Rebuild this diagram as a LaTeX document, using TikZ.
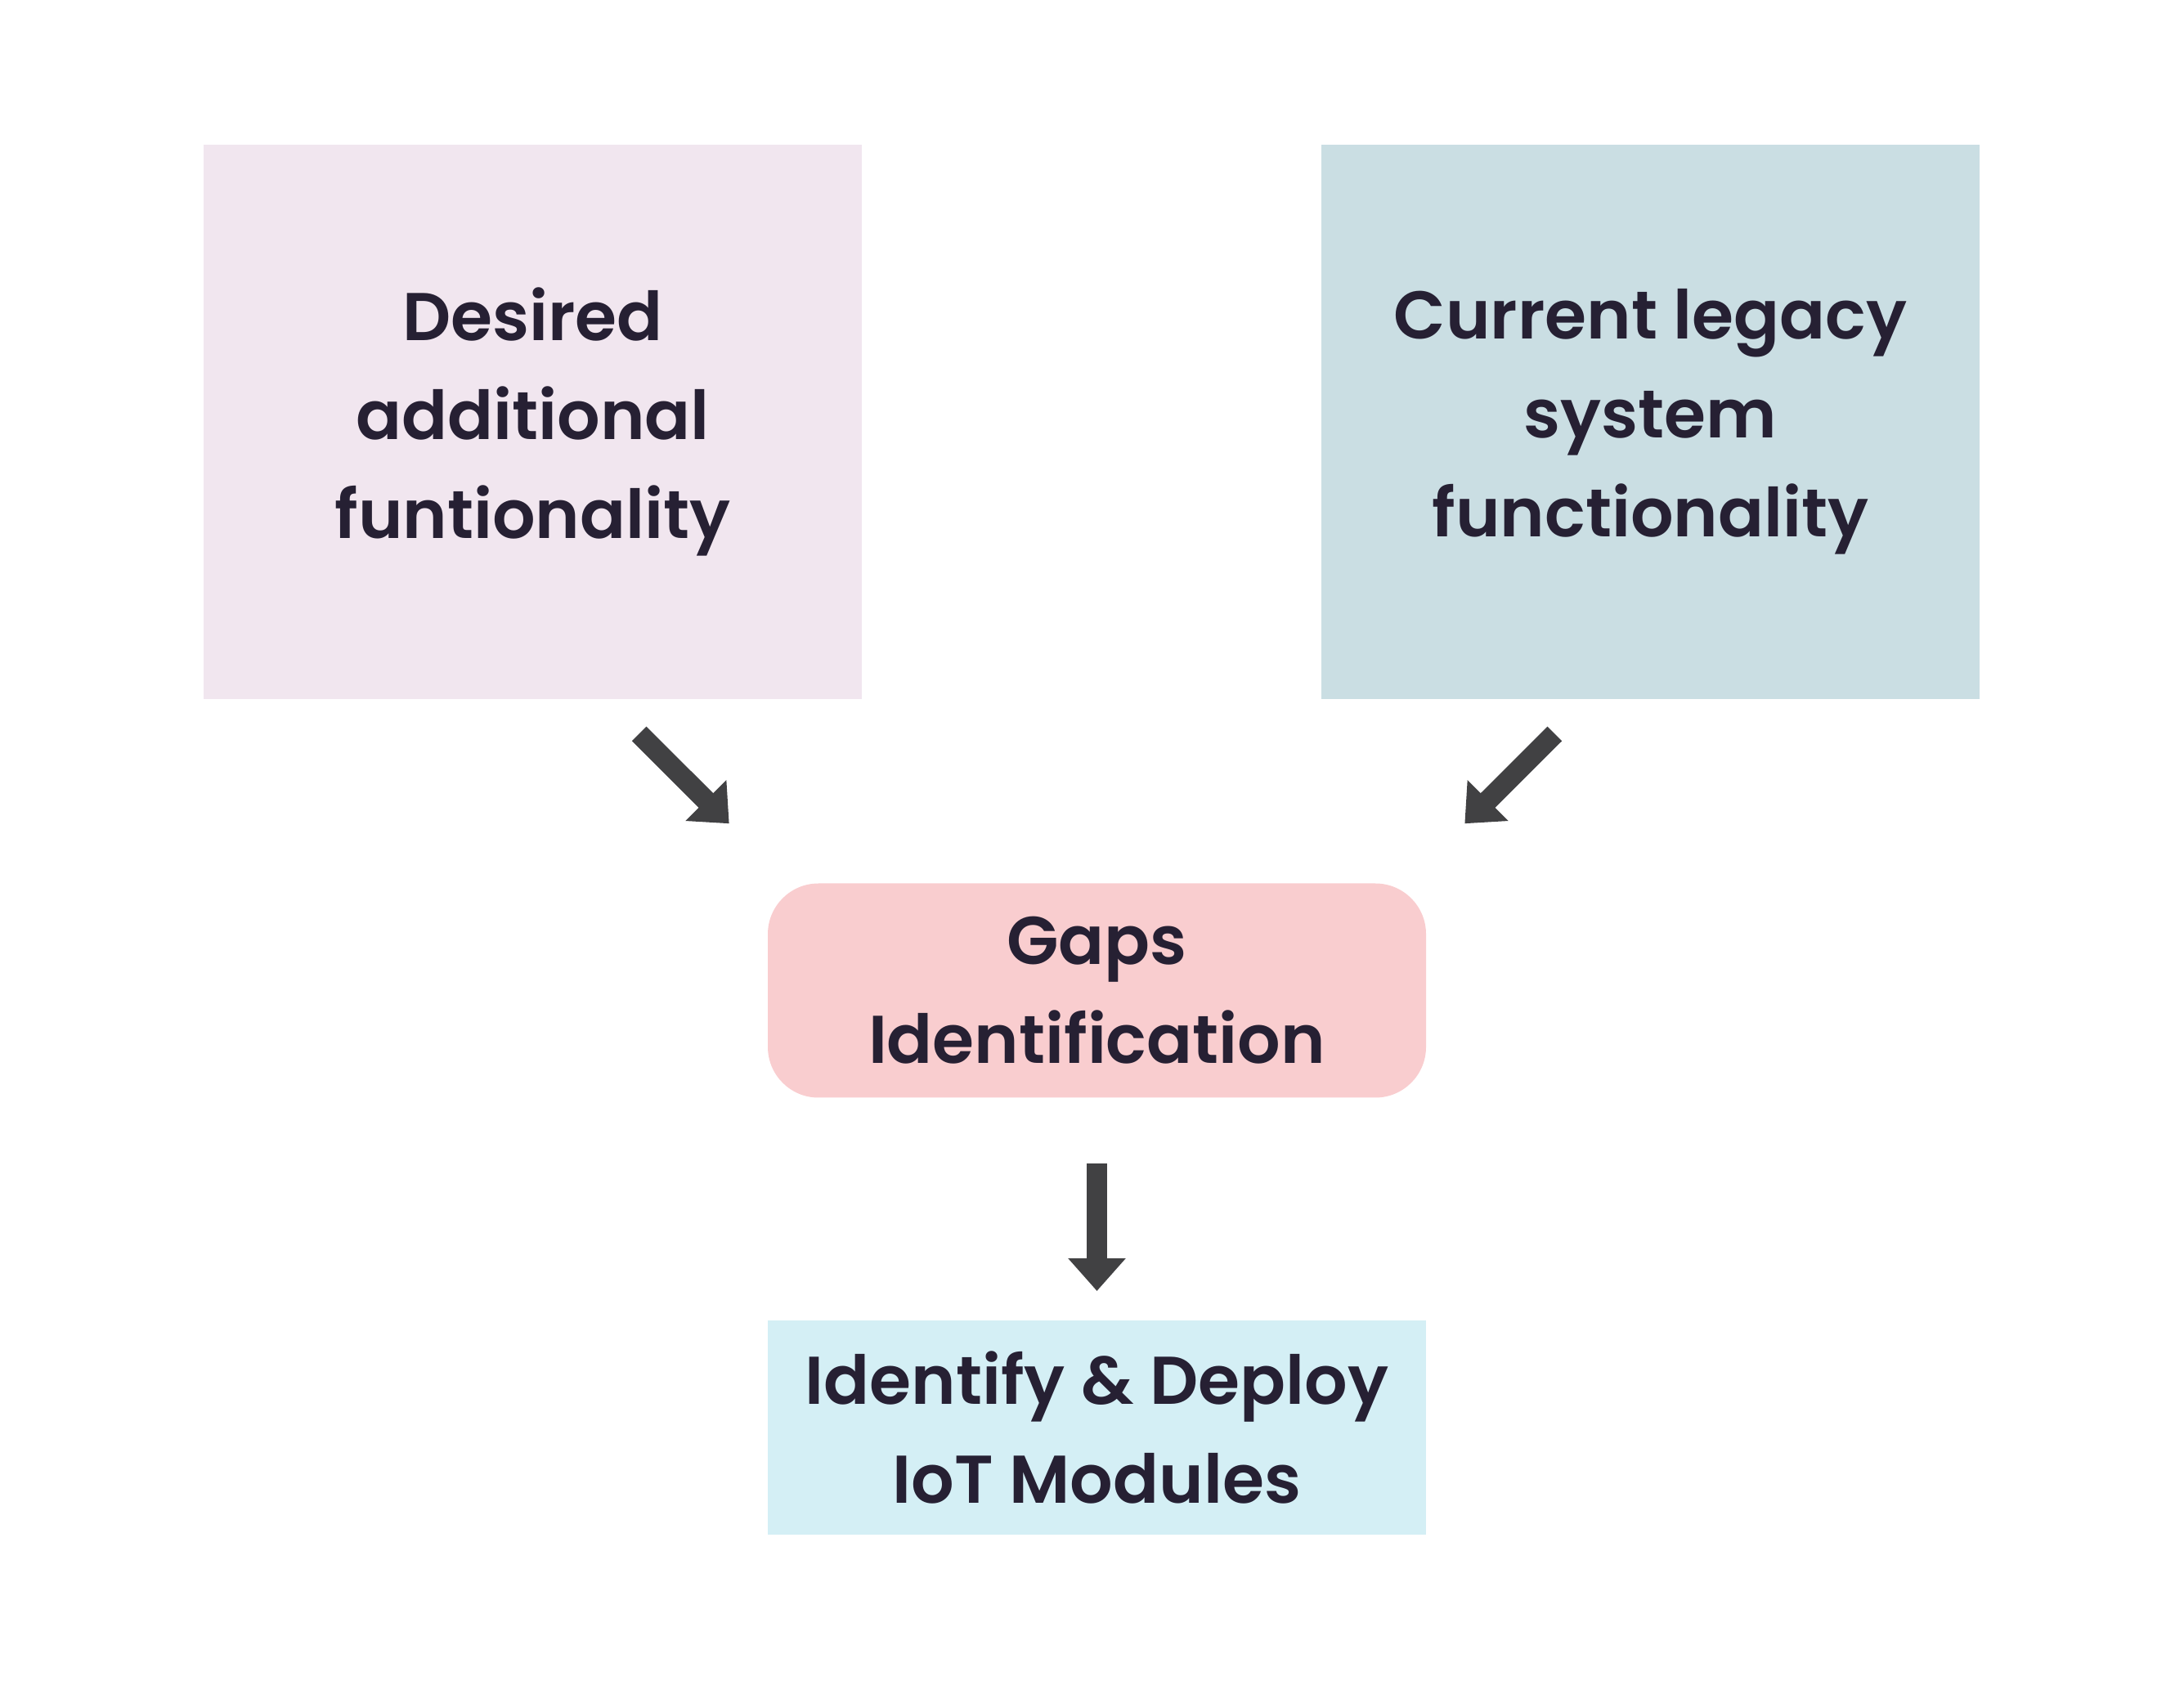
\documentclass[tikz,border=0pt]{standalone}
\usepackage{fontspec}
\setmainfont{Poppins}[BoldFont={Poppins SemiBold}]
\usetikzlibrary{arrows.meta}
\definecolor{desiredfill}{HTML}{F1E6EF}
\definecolor{legacyfill}{HTML}{CADEE3}
\definecolor{gapsfill}{HTML}{F9CDCF}
\definecolor{deployfill}{HTML}{D4EFF5}
\definecolor{boxtext}{HTML}{262033}
\definecolor{arrowgray}{HTML}{414143}
\newcommand\boxfont{\fontsize{23.5pt}{34.5pt}\selectfont\bfseries}
\tikzset{
  bigbox/.style={minimum width=8.05cm, minimum height=6.78cm, inner sep=0pt,
    align=center, text=boxtext, font=\boxfont},
  smallbox/.style={bigbox, minimum height=2.62cm},
  fatarrow/.style={draw=arrowgray, line width=2.5mm,
    -{Triangle[length=4mm, width=6.8mm, fill=arrowgray]}}
}
\begin{document}
\begin{tikzpicture}
    \useasboundingbox (0, 0) rectangle (26.71, 20.55) ;
    \node (desired)[bigbox, fill=desiredfill] at (6.515, 15.39)
      {Desired\\additional\\funtionality} ;
    \node (legacy)[bigbox, fill=legacyfill] at (20.185, 15.39)
      {Current legacy\\system\\functionality} ;
    \node (gaps)[smallbox, fill=gapsfill, rounded corners=0.62cm] at (13.415, 8.435)
      {Gaps\\Identification} ;
    \node (deploy)[smallbox, fill=deployfill] at (13.415, 3.09)
      {Identify \& Deploy\\IoT Modules} ;
    % arrows float between the boxes
    \coordinate (desiredout) at (7.817, 11.575) ;
    \coordinate (legacyout) at (19.013, 11.575) ;
    \coordinate (gapsinl) at (8.917, 10.477) ;
    \coordinate (gapsinr) at (17.913, 10.477) ;
    \coordinate (gapsout) at (13.415, 6.32) ;
    \coordinate (deployin) at (13.415, 4.76) ;
    \draw[fatarrow] (desiredout) -- (gapsinl) ;
    \draw[fatarrow] (legacyout) -- (gapsinr) ;
    \draw[fatarrow] (gapsout) -- (deployin) ;
  \end{tikzpicture}
\end{document}
